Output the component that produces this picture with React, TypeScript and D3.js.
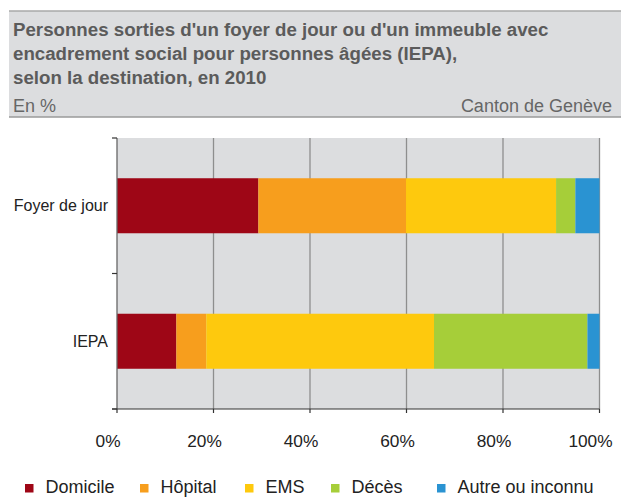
import React from "react";
import * as d3 from "d3";

const categories = ["Foyer de jour", "IEPA"];
const seriesNames = ["Domicile", "Hôpital", "EMS", "Décès", "Autre ou inconnu"];
const domicile = [29.3, 12.3];
const hopital = [30.6, 6.2];
const ems = [31.1, 47.2];
const deces = [4.0, 31.8];
const autre = [5.0, 2.5];
const xTicks = [0, 20, 40, 60, 80, 100];
const colors = ["#9e0616", "#f79e1d", "#fec90d", "#a6ce39", "#2a93d2"];

const titleLines = [
  "Personnes sorties d'un foyer de jour ou d'un immeuble avec",
  "encadrement social pour personnes âgées (IEPA),",
  "selon la destination, en 2010",
];

const W = 621;
const H = 497;
const left = 117;
const right = 599.5;
const top = 138;
const bottom = 409;
const legendX = [25, 140, 245, 331, 437];
const font = "'Liberation Sans', Arial, Helvetica, sans-serif";

export default function App() {
  const x = d3.scaleLinear().domain([0, 100]).range([left, right]);
  const y = d3
    .scaleBand<string>()
    .domain(categories)
    .range([top, bottom])
    .paddingInner(0.594)
    .paddingOuter(0.297);

  const table = categories.map((c, i) => ({
    cat: c,
    Domicile: domicile[i],
    "Hôpital": hopital[i],
    EMS: ems[i],
    "Décès": deces[i],
    "Autre ou inconnu": autre[i],
  }));
  const stacked = d3.stack<any>().keys(seriesNames)(table);
  const step = (bottom - top) / categories.length;
  const catTicks = d3.range(categories.length + 1).map((i) => top + i * step);

  return (
    <svg
      width={W}
      height={H}
      style={{ position: "absolute", left: 0, top: 0, display: "block" }}
      fontFamily={font}
    >
      <rect x={0} y={0} width={W} height={H} fill="#ffffff" />
      {/* header */}
      <rect x={9} y={11} width={W - 9} height={106} fill="#dcdddf" />
      <line x1={9} x2={W} y1={11} y2={11} stroke="#a9a9a9" strokeWidth={1.5} />
      <line x1={9} x2={W} y1={117} y2={117} stroke="#9a9a9a" strokeWidth={1.5} />
      {titleLines.map((t, i) => (
        <text
          key={i}
          x={13}
          y={36 + i * 24}
          fontSize={18.7}
          fontWeight="bold"
          fill="#5b5b5b"
        >
          {t}
        </text>
      ))}
      <text x={13} y={112} fontSize={18} fill="#666666">
        En %
      </text>
      <text x={612} y={112} fontSize={18} fill="#666666" textAnchor="end">
        Canton de Genève
      </text>

      {/* plot background */}
      <rect x={left} y={top} width={right - left} height={bottom - top} fill="#dcdddf" />
      {xTicks.slice(1).map((t) => (
        <line
          key={t}
          x1={x(t)}
          x2={x(t)}
          y1={top}
          y2={bottom}
          stroke="#8e8e8e"
          strokeWidth={1.3}
        />
      ))}

      {/* bars */}
      {stacked.map((s, si) => (
        <g key={s.key} fill={colors[si]}>
          {s.map((d, di) => (
            <rect
              key={di}
              x={x(d[0])}
              width={x(d[1]) - x(d[0])}
              y={y(categories[di])!}
              height={y.bandwidth()}
            />
          ))}
        </g>
      ))}

      {/* axes */}
      <line x1={left} x2={left} y1={top} y2={bottom} stroke="#666666" strokeWidth={1.3} />
      {catTicks.map((t, i) => (
        <line key={i} x1={112} x2={left} y1={t} y2={t} stroke="#333333" strokeWidth={1.2} />
      ))}
      <line x1={112} x2={right} y1={bottom} y2={bottom} stroke="#333333" strokeWidth={1.2} />
      {xTicks.map((t) => (
        <line
          key={t}
          x1={x(t)}
          x2={x(t)}
          y1={bottom}
          y2={bottom + 4}
          stroke="#333333"
          strokeWidth={1.2}
        />
      ))}
      {xTicks.map((t) => (
        <text
          key={t}
          x={x(t) - 9}
          y={446.5}
          fontSize={17.3}
          fill="#222222"
          textAnchor="middle"
        >
          {t}%
        </text>
      ))}
      {categories.map((c) => (
        <text
          key={c}
          x={108}
          y={y(c)! + y.bandwidth() / 2 + 5.5}
          fontSize={16}
          fill="#222222"
          textAnchor="end"
        >
          {c}
        </text>
      ))}

      {/* legend */}
      {seriesNames.map((n, i) => (
        <g key={n}>
          <rect x={legendX[i]} y={484} width={8.5} height={8.5} fill={colors[i]} />
          <text x={legendX[i] + 20.5} y={492.5} fontSize={18} fill="#222222">
            {n}
          </text>
        </g>
      ))}
    </svg>
  );
}
